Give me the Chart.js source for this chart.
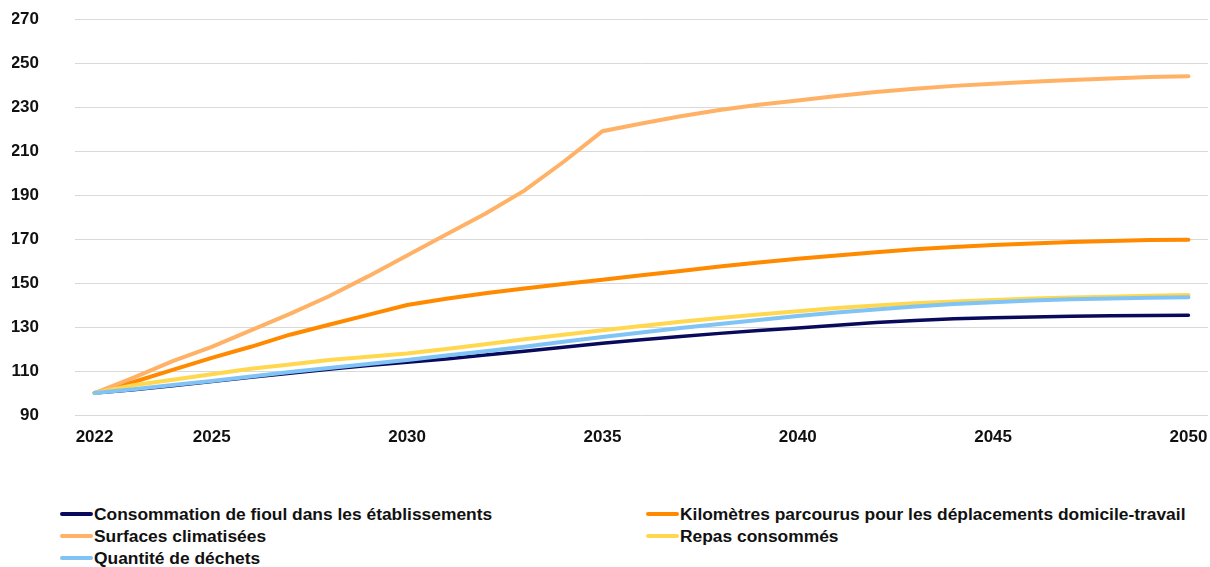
<!DOCTYPE html>
<html>
<head>
<meta charset="utf-8">
<script src="https://cdn.jsdelivr.net/npm/chart.js@4"></script>
<style>
  body { margin: 0; background: #fff; font-family: "Liberation Sans", Arial, sans-serif; }
  #wrap { position: relative; width: 1210px; height: 567px; }
  #chartBox { position: absolute; left: 0; top: 0; width: 1210px; height: 460px; }
  #legend { position: absolute; left: 60px; top: 503px; display: grid; grid-template-columns: 586px auto; row-gap: 0; }
  .item { display: flex; align-items: center; height: 22px; font-weight: bold; font-size: 17.4px; color: #111; white-space: nowrap; }
  .swatch { width: 33px; height: 4px; margin-right: 1px; border-radius: 2px; }
</style>
</head>
<body>
<div id="wrap">
  <div id="chartBox"><canvas id="myChart"></canvas></div>
  <div id="legend"></div>
</div>
<script>
const years = [];
for (let y = 2022; y <= 2050; y++) years.push(String(y));
const shownYears = ['2022', '2025', '2030', '2035', '2040', '2045', '2050'];

const seriesNames = [
  'Consommation de fioul dans les établissements',
  'Kilomètres parcourus pour les déplacements domicile-travail',
  'Surfaces climatisées',
  'Repas consommés',
  'Quantité de déchets'
];

const fioul = [100, 101.5, 103.3, 105.2, 107.1, 109, 110.8, 112.5, 114, 115.5,
  117.3, 119, 120.8, 122.6, 124.2, 125.7, 127.1, 128.4, 129.6, 130.8,
  132, 133, 133.7, 134.2, 134.6, 134.9, 135.1, 135.2, 135.3];
const kilometres = [100, 105, 110.5, 116, 121, 126.5, 131, 135.5, 140, 142.8,
  145.3, 147.5, 149.5, 151.5, 153.5, 155.5, 157.5, 159.3, 161, 162.5,
  164, 165.3, 166.4, 167.3, 168, 168.6, 169.1, 169.5, 169.7];
const surfaces = [100, 107, 114.5, 121, 128.5, 136, 144, 153, 162.5, 172,
  181.5, 192, 205, 219, 222.5, 225.8, 228.6, 231, 233, 235, 236.8,
  238.3, 239.6, 240.6, 241.5, 242.3, 243, 243.6, 244];
const repas = [100, 103.5, 106, 108.5, 111, 113, 115, 116.5, 118, 120,
  122.2, 124.4, 126.5, 128.5, 130.5, 132.4, 134.1, 135.7, 137.2, 138.6,
  139.8, 140.8, 141.6, 142.3, 142.9, 143.4, 143.8, 144.2, 144.5];
const dechets = [100, 101.7, 103.6, 105.5, 107.5, 109.5, 111.4, 113.2, 115, 117,
  119, 121, 123.3, 125.5, 127.5, 129.5, 131.4, 133.2, 135, 136.6,
  138, 139.3, 140.4, 141.3, 142, 142.6, 143, 143.3, 143.5];

const colors = ['#0a0a5c', '#ff8a00', '#ffb266', '#ffd84f', '#80c4f6'];
const values = [fioul, kilometres, surfaces, repas, dechets];
const drawOrder = [4, 3, 2, 1, 0];

const data = {
  labels: years,
  datasets: seriesNames.map((name, i) => ({
    label: name,
    data: values[i],
    borderColor: colors[i],
    backgroundColor: colors[i],
    borderWidth: i === 0 ? 3.5 : 4,
    pointRadius: 0,
    tension: 0,
    borderCapStyle: 'round',
    order: drawOrder[i]
  }))
};

const config = {
  type: 'line',
  data,
  options: {
    responsive: false,
    animation: false,
    layout: { padding: { left: 12, right: 2, top: 19, bottom: 0 } },
    plugins: { legend: { display: false }, tooltip: { enabled: false } },
    scales: {
      x: {
        offset: true,
        grid: { display: false, drawTicks: false },
        border: { display: false },
        afterFit: (s) => { s.height = 45; s.paddingLeft = 0; s.paddingRight = 0; },
        ticks: {
          autoSkip: false,
          maxRotation: 0,
          padding: 12,
          color: '#111',
          font: { family: 'Liberation Sans', weight: 'bold', size: 17 },
          callback: function (v) {
            const lab = this.getLabelForValue(v);
            return shownYears.includes(lab) ? lab : '';
          }
        }
      },
      y: {
        min: 90,
        max: 270,
        border: { display: false },
        grid: { color: '#d9d9d9', lineWidth: 1, drawTicks: false },
        afterFit: (s) => { s.width = 63; s.paddingTop = 0; s.paddingBottom = 0; },
        ticks: {
          stepSize: 20,
          padding: 36,
          color: '#111',
          font: { family: 'Liberation Sans', weight: 'bold', size: 17 }
        }
      }
    }
  }
};

const cv = document.getElementById('myChart');
cv.width = 1210;
cv.height = 460;
const myChart = new Chart(cv, config);

// legend in two columns
const legend = document.getElementById('legend');
seriesNames.forEach((name, i) => {
  const item = document.createElement('div');
  item.className = 'item';
  const sw = document.createElement('span');
  sw.className = 'swatch';
  sw.style.background = colors[i];
  item.appendChild(sw);
  item.appendChild(document.createTextNode(name));
  legend.appendChild(item);
});
</script>
</body>
</html>
